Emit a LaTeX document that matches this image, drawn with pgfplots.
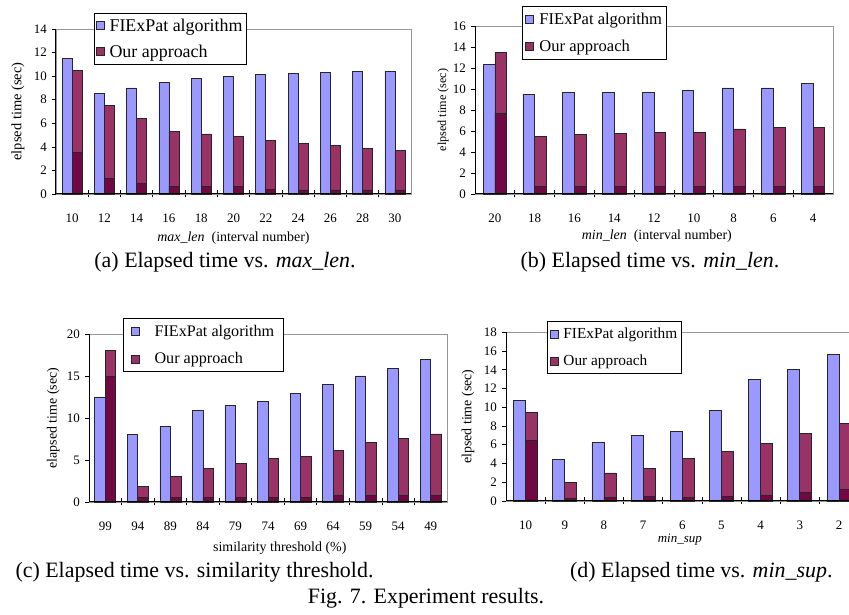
\documentclass[border=0pt]{standalone}
\usepackage{fontspec}
\setmainfont{Liberation Serif}
\usepackage{pgfplots}
\pgfplotsset{compat=1.18}
\usepackage{pgfplotstable}

\definecolor{fiblue}{RGB}{153,153,255}
\definecolor{ourred}{RGB}{153,51,102}
\definecolor{ourdark}{RGB}{112,8,68}
\definecolor{boxgray}{RGB}{150,150,150}

\newcommand{\fs}[1]{\fontsize{#1}{#1}\selectfont}

% (a) max_len
\pgfplotstableread{
x fie our base
0 11.5 10.5 3.5
1 8.5 7.5 1.3
2 9.0 6.4 0.9
3 9.5 5.3 0.65
4 9.8 5.1 0.65
5 10.0 4.9 0.65
6 10.15 4.55 0.4
7 10.25 4.3 0.35
8 10.35 4.1 0.35
9 10.4 3.9 0.35
10 10.4 3.7 0.35
}\tmaxlen

% (b) min_len
\pgfplotstableread{
x fie our base
0 12.3 13.5 7.7
1 9.5 5.5 0.7
2 9.7 5.7 0.7
3 9.7 5.8 0.7
4 9.7 5.9 0.7
5 9.9 5.9 0.7
6 10.1 6.2 0.7
7 10.1 6.3 0.7
8 10.5 6.3 0.7
}\tminlen

% (c) similarity threshold
\pgfplotstableread{
x fie our base
0 12.5 18.0 14.9
1 8.0 1.9 0.55
2 9.0 3.0 0.55
3 10.9 4.0 0.55
4 11.5 4.55 0.55
5 12.0 5.2 0.55
6 12.9 5.45 0.55
7 14.0 6.1 0.8
8 15.0 7.05 0.8
9 15.9 7.55 0.8
10 17.0 8.1 0.8
}\tsim

% (d) min_sup
\pgfplotstableread{
x fie our base
0 10.75 9.45 6.45
1 4.45 2.0 0.28
2 6.25 3.0 0.38
3 6.98 3.5 0.5
4 7.45 4.55 0.42
5 9.7 5.25 0.5
6 13.0 6.15 0.6
7 14.0 7.2 0.95
8 15.6 8.3 1.25
}\tminsup

\pgfplotsset{
  exbars/.style={
    scale only axis,
    ybar, bar width=#1,
    clip=false,
    ymin=0,
    axis line style={draw=boxgray, line width=0.7bp},
    xtick pos=bottom, ytick pos=left,
    ytick align=outside, xtick align=center,
    major tick length=4bp, minor tick length=7bp,
    tick style={black, line width=0.7bp},
    major x tick style={draw=none},
    /pgf/number format/assume math mode=true,
    tick label style={font=\fs{13}},
    xticklabel style={anchor=center, inner sep=0pt, yshift=-22bp},
    yticklabel style={anchor=east, inner sep=0pt, xshift=-5bp},
    every axis plot/.append style={draw=black!85, line width=0.7bp},
    legend cell align=left,
    legend style={draw=black, fill=white, line width=0.7bp, anchor=north west},
  },
  sqlegend/.style={legend image code/.code={%
    \draw[##1, line width=0.7bp] (0bp,-4bp) rectangle (8bp,4bp);}},
}

\begin{document}
\begin{tikzpicture}
\path[use as bounding box] (0,0) rectangle (849bp,615bp);

% ---------------- (a)
\begin{axis}[exbars=10bp, at={(56bp,421bp)}, anchor=south west,
  width=355bp, height=165bp,
  xmin=-0.5, xmax=10.5, ymax=14, ytick={0,2,...,14},
  xtick={0,...,10}, xticklabels={10,12,14,16,18,20,22,24,26,28,30},
  minor xtick={0.5,1.5,...,9.5},
  xlabel={\textit{max\_len}\ \ (interval number)},
  ylabel={elpsed time (sec)},
  every axis x label/.style={at={(axis description cs:0.5,-0.267)}, anchor=center, font=\fs{14}},
  every axis y label/.style={at={(axis description cs:-0.107,0.5)}, rotate=90, anchor=center, font=\fs{14.5}},
  legend style={at={(0.107,1.097)}, font=\fs{18}, row sep=9bp, inner xsep=2bp, inner ysep=4bp, nodes={inner sep=1.5bp}, /tikz/every odd column/.append style={column sep=3bp}},
]
\addplot[fill=fiblue, bar shift=-5bp, sqlegend] table[x=x, y=fie] {\tmaxlen};
\addlegendentry{FIExPat algorithm}
\addplot[fill=ourred, bar shift=5bp, sqlegend] table[x=x, y=our] {\tmaxlen};
\addlegendentry{Our approach}
\addplot[fill=ourdark, bar shift=5bp, forget plot] table[x=x, y=base] {\tmaxlen};
\draw[black, line width=1bp] (rel axis cs:0,1) -- (rel axis cs:0,0) -- (rel axis cs:1,0);
\end{axis}

% ---------------- (b)
\begin{axis}[exbars=11.7bp, at={(475bp,421bp)}, anchor=south west,
  width=358bp, height=168bp,
  xmin=-0.5, xmax=8.5, ymax=16, ytick={0,2,...,16},
  xtick={0,...,8}, xticklabels={20,18,16,14,12,10,8,6,4},
  minor xtick={0.5,1.5,...,7.5},
  xlabel={\textit{min\_len}\ \ (interval number)},
  ylabel={elpsed time (sec)},
  every axis x label/.style={at={(axis description cs:0.508,-0.25)}, anchor=center, font=\fs{14}},
  every axis y label/.style={at={(axis description cs:-0.089,0.5)}, rotate=90, anchor=center, font=\fs{12.2}},
  legend style={at={(0.131,1.119)}, font=\fs{16.6}, row sep=11bp, inner xsep=3bp, inner ysep=5bp, nodes={inner sep=1.5bp}, /tikz/every odd column/.append style={column sep=4bp}},
]
\addplot[fill=fiblue, bar shift=-5.85bp, sqlegend] table[x=x, y=fie] {\tminlen};
\addlegendentry{FIExPat algorithm}
\addplot[fill=ourred, bar shift=5.85bp, sqlegend] table[x=x, y=our] {\tminlen};
\addlegendentry{Our approach}
\addplot[fill=ourdark, bar shift=5.85bp, forget plot] table[x=x, y=base] {\tminlen};
\draw[black, line width=1bp] (rel axis cs:0,1) -- (rel axis cs:0,0) -- (rel axis cs:1,0);
\end{axis}

% ---------------- (c)
\begin{axis}[exbars=10.5bp, at={(89bp,113bp)}, anchor=south west,
  width=358bp, height=168bp,
  xmin=-0.5, xmax=10.5, ymax=20, ytick={0,5,...,20},
  xtick={0,...,10}, xticklabels={99,94,89,84,79,74,69,64,59,54,49},
  minor xtick={0.5,1.5,...,9.5},
  xlabel={similarity threshold (\%)},
  ylabel={elapsed time (sec)},
  every axis x label/.style={at={(axis description cs:0.533,-0.274)}, anchor=center, font=\fs{14}},
  every axis y label/.style={at={(axis description cs:-0.1,0.5)}, rotate=90, anchor=center, font=\fs{14}},
  legend style={at={(0.095,1.095)}, font=\fs{16.2}, row sep=12bp, inner xsep=8bp, inner ysep=5bp, nodes={inner sep=1.5bp}, /tikz/every odd column/.append style={column sep=13bp}},
]
\addplot[fill=fiblue, bar shift=-5.25bp, sqlegend] table[x=x, y=fie] {\tsim};
\addlegendentry{FIExPat algorithm}
\addplot[fill=ourred, bar shift=5.25bp, sqlegend] table[x=x, y=our] {\tsim};
\addlegendentry{Our approach}
\addplot[fill=ourdark, bar shift=5.25bp, forget plot] table[x=x, y=base] {\tsim};
\draw[black, line width=1bp] (rel axis cs:0,1) -- (rel axis cs:0,0) -- (rel axis cs:1,0);
\end{axis}

% ---------------- (d)
\begin{axis}[exbars=12bp, at={(506bp,114bp)}, anchor=south west,
  width=352.6bp, height=168.7bp,
  xmin=-0.5, xmax=8.5, ymax=18, ytick={0,2,...,18},
  xtick={0,...,8}, xticklabels={10,9,8,7,6,5,4,3,2},
  minor xtick={0.5,1.5,...,7.5},
  xlabel={\textit{min\_sup}},
  ylabel={elpsed time (sec)},
  every axis x label/.style={at={(axis description cs:0.493,-0.228)}, anchor=center, font=\fs{13}},
  every axis y label/.style={at={(axis description cs:-0.108,0.5)}, rotate=90, anchor=center, font=\fs{14}},
  legend style={at={(0.116,1.067)}, font=\fs{15.4}, row sep=12bp, inner xsep=3bp, inner ysep=5bp, nodes={inner sep=1.5bp}, /tikz/every odd column/.append style={column sep=3bp}},
]
\addplot[fill=fiblue, bar shift=-6bp, sqlegend] table[x=x, y=fie] {\tminsup};
\addlegendentry{FIExPat algorithm}
\addplot[fill=ourred, bar shift=6bp, sqlegend] table[x=x, y=our] {\tminsup};
\addlegendentry{Our approach}
\addplot[fill=ourdark, bar shift=6bp, forget plot] table[x=x, y=base] {\tminsup};
\draw[black, line width=1bp] (rel axis cs:0,1) -- (rel axis cs:0,0) -- (rel axis cs:1,0);
\end{axis}

% ---------------- captions
\node[font=\fs{22}] at (225bp,353bp) {(a) Elapsed time vs. \textit{max\_len}.};
\node[font=\fs{22}] at (650bp,353bp) {(b) Elapsed time vs. \textit{min\_len}.};
\node[font=\fs{22}, anchor=west] at (12bp,43bp) {(c) Elapsed time vs. similarity threshold.};
\node[font=\fs{22}, anchor=east] at (836bp,43bp) {(d) Elapsed time vs. \textit{min\_sup}.};
\node[font=\fs{22}] at (426bp,17bp) {Fig. 7. Experiment results.};
\end{tikzpicture}
\end{document}
